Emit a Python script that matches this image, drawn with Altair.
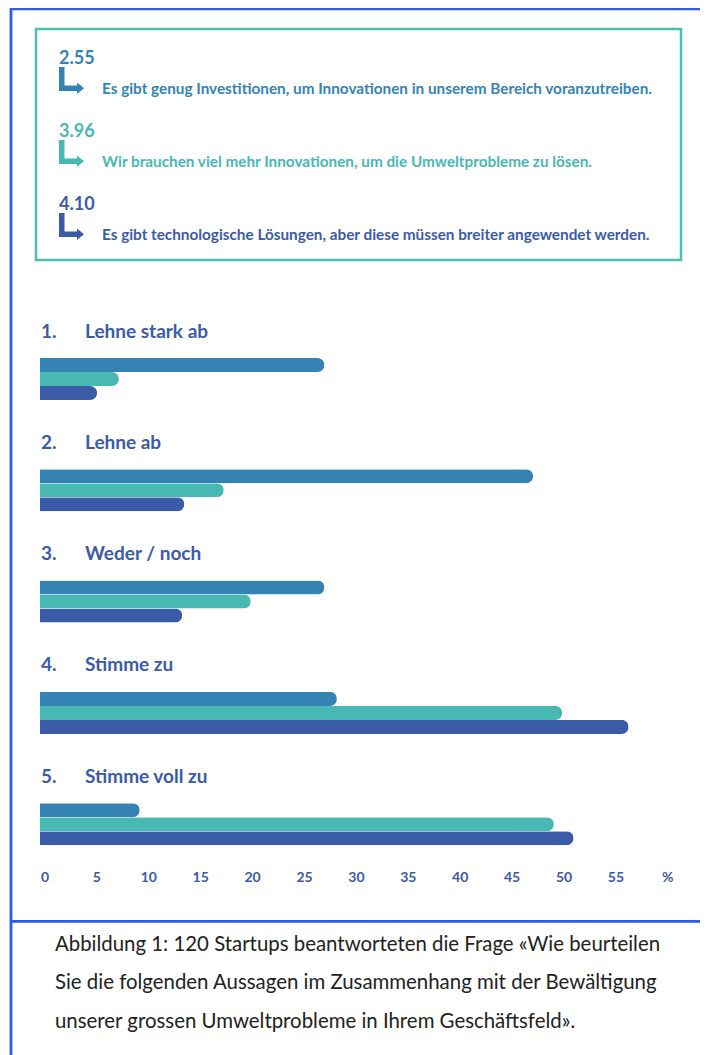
import altair as alt
import pandas as pd

# ---------------- data ----------------
categories = ["Lehne stark ab", "Lehne ab", "Weder / noch", "Stimme zu", "Stimme voll zu"]
numbers = ["1.", "2.", "3.", "4.", "5."]
statements = [
    "Es gibt genug Investitionen, um Innovationen in unserem Bereich voranzutreiben.",
    "Wir brauchen viel mehr Innovationen, um die Umweltprobleme zu lösen.",
    "Es gibt technologische Lösungen, aber diese müssen breiter angewendet werden.",
]
means = ["2.55", "3.96", "4.10"]
values_investitionen = [27.4, 47.5, 27.4, 28.6, 9.6]
values_innovationen = [7.6, 17.7, 20.3, 50.3, 49.5]
values_loesungen = [5.5, 13.9, 13.7, 56.7, 51.4]
tick_values = [0, 5, 10, 15, 20, 25, 30, 35, 40, 45, 50, 55, 60]
tick_labels = ["0", "5", "10", "15", "20", "25", "30", "35", "40", "45", "50", "55", "%"]
caption = ("Abbildung 1: 120 Startups beantworteten die Frage «Wie beurteilen\n"
           "Sie die folgenden Aussagen im Zusammenhang mit der Bewältigung\n"
           "unserer grossen Umweltprobleme in Ihrem Geschäftsfeld».")

colors = ["#3583b5", "#48b9b2", "#3b5ba7"]
label_color = "#3b5aa8"
frame_color = "#2d5be3"
box_color = "#4dbdb5"
FONT = "Lato"

series_values = [values_investitionen, values_innovationen, values_loesungen]
rows = []
for s, vals in zip(statements, series_values):
    for c, v in zip(categories, vals):
        rows.append({"group": c, "series": s, "value": v})
bars_df = pd.DataFrame(rows)
heads_df = pd.DataFrame({"group": categories, "num": numbers})
legend_df = pd.DataFrame({"i": [0, 1, 2], "statement": statements, "mean": means})
ticks_df = pd.DataFrame({"tick": tick_values, "label": tick_labels})
one = pd.DataFrame({"a": [0]})

W, H = 692, 1047

xscale = alt.Scale(domain=[0, 60], range=[32, 654.8], nice=False, zero=True)


def yscale():
    return alt.Scale(type="band", domain=categories, range=[350, 837.2],
                     paddingInner=0.6226, paddingOuter=0)


cscale = alt.Scale(domain=statements, range=colors)

bars = alt.Chart(bars_df).mark_bar(cornerRadiusEnd=7).encode(
    x=alt.X("value:Q", scale=xscale, axis=None),
    y=alt.Y("group:N", scale=yscale(), sort=categories, axis=None),
    yOffset=alt.YOffset("series:N", sort=statements,
                        scale=alt.Scale(domain=statements, paddingInner=0, paddingOuter=0)),
    color=alt.Color("series:N", scale=cscale, legend=None),
)

head_num = alt.Chart(heads_df).mark_text(
    align="left", baseline="alphabetic", font=FONT, fontWeight="bold",
    fontSize=19, color=label_color, dy=-20.5
).encode(
    x=alt.value(33),
    y=alt.Y("group:N", scale=yscale(), sort=categories, axis=None, bandPosition=0),
    text="num:N",
)
head_lab = alt.Chart(heads_df).mark_text(
    align="left", baseline="alphabetic", font=FONT, fontWeight="bold",
    fontSize=19, color=label_color, dy=-20.5
).encode(
    x=alt.value(77),
    y=alt.Y("group:N", scale=yscale(), sort=categories, axis=None, bandPosition=0),
    text="group:N",
)

ticks = alt.Chart(ticks_df).mark_text(
    align="center", baseline="alphabetic", font=FONT, fontWeight="bold",
    fontSize=14, color=label_color, dx=5
).encode(
    x=alt.X("tick:Q", scale=xscale, axis=None),
    y=alt.value(873.7),
    text="label:N",
)

lscale = alt.Scale(domain=[0, 2], range=[86, 232])
# L-shaped arrow, drawn relative to the statement baseline (shifted up)
arrow_path = ("M -1.042 -2.25 L -0.583 -2.25 L -0.583 -0.708 L 0.458 -0.708 "
              "L 0.458 -0.958 L 1.042 -0.479 L 0.458 0 L 0.458 -0.25 L -1.042 -0.25 Z")

leg_mean = alt.Chart(legend_df).mark_text(
    align="left", baseline="alphabetic", font=FONT, fontWeight="bold", fontSize=18, dy=-30
).encode(
    x=alt.value(51),
    y=alt.Y("i:Q", scale=lscale, axis=None),
    text="mean:N",
    color=alt.Color("statement:N", scale=cscale, legend=None),
)
leg_arrow = alt.Chart(legend_df).mark_point(
    shape=arrow_path, filled=True, size=576, opacity=1, strokeWidth=0
).encode(
    x=alt.value(63.5),
    y=alt.Y("i:Q", scale=lscale, axis=None),
    color=alt.Color("statement:N", scale=cscale, legend=None),
)
leg_text = alt.Chart(legend_df).mark_text(
    align="left", baseline="alphabetic", font=FONT, fontWeight="bold", fontSize=15.3
).encode(
    x=alt.value(94),
    y=alt.Y("i:Q", scale=lscale, axis=None),
    text="statement:N",
    color=alt.Color("statement:N", scale=cscale, legend=None),
)

legend_box = alt.Chart(one).mark_rect(fill=None, stroke=box_color, strokeWidth=2.5).encode(
    x=alt.value(28), x2=alt.value(673), y=alt.value(21), y2=alt.value(252)
)
outer_frame = alt.Chart(one).mark_rect(fill=None, stroke=frame_color, strokeWidth=2.8).encode(
    x=alt.value(3), x2=alt.value(695), y=alt.value(0.8), y2=alt.value(1070)
)
divider = alt.Chart(one).mark_rule(stroke=frame_color, strokeWidth=2.8).encode(
    x=alt.value(3), x2=alt.value(695), y=alt.value(913.3)
)
cap = alt.Chart(one).mark_text(
    align="left", baseline="alphabetic", font=FONT, fontSize=20.4, color="#222222",
    lineBreak="\n", lineHeight=38.3
).encode(
    x=alt.value(47), y=alt.value(943), text=alt.value(caption)
)

chart = alt.layer(
    outer_frame, divider, legend_box,
    leg_mean, leg_arrow, leg_text,
    bars, head_num, head_lab, ticks, cap
).resolve_scale(y="independent").properties(
    width=W, height=H, padding=0, autosize=alt.AutoSizeParams(type="none"),
    background="white"
).configure_view(stroke=None)

chart.save("out.html", embed_options={"renderer": "svg", "actions": False})
